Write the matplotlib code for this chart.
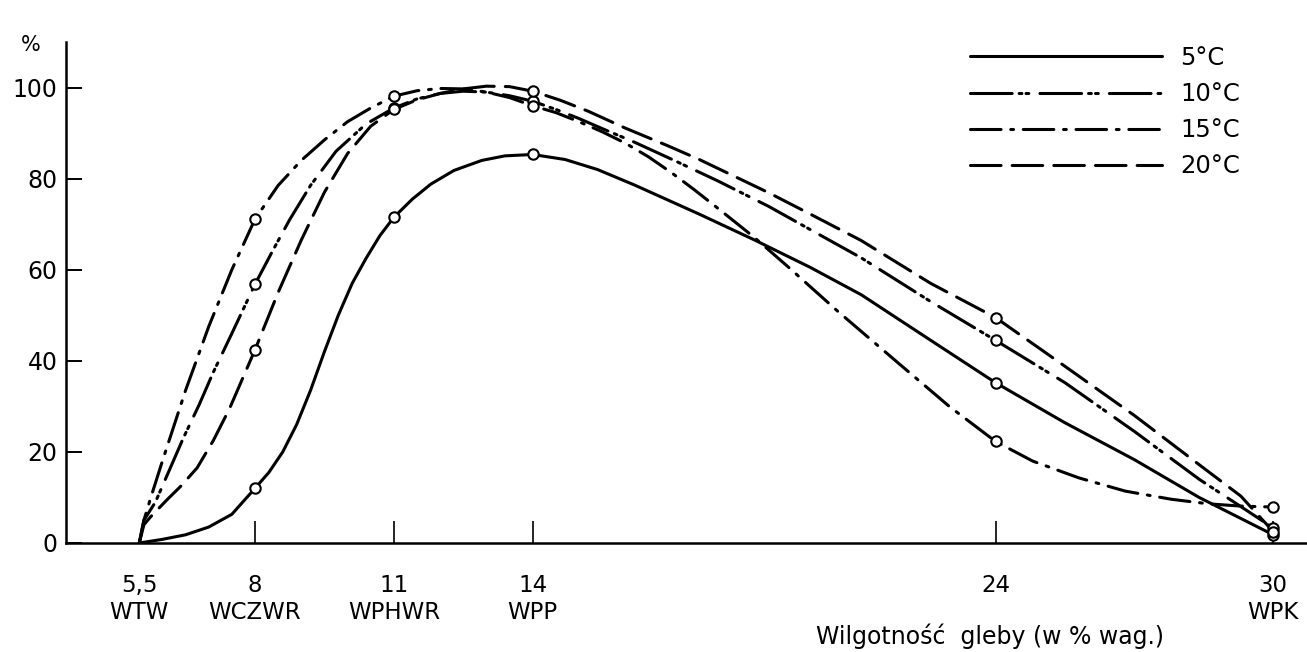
import matplotlib
matplotlib.use("Agg")
import matplotlib.pyplot as plt

plt.rcParams['font.family'] = ['DejaVu Sans']
plt.rcParams['lines.scale_dashes'] = False

# -------------------------------
# Datos
# -------------------------------
tick_pos = [5.5, 8, 11, 14, 24, 30]
tick_txt = ['5,5\nWTW', '8\nWCZWR', '11\nWPHWR', '14\nWPP', '24', '30\nWPK']

# puntos medidos (círculos)
pts_x = [8, 11, 14, 24, 30]
pts_5 = [12.0, 71.5, 85.3, 35.2, 1.8]
pts_10 = [56.8, 95.5, 97.0, 44.5, 3.3]
pts_15 = [71.1, 98.1, 96.0, 22.3, 7.9]
pts_20 = [42.4, 95.2, 99.2, 49.5, 2.5]

# trazado de las curvas
x_5 = [5.5, 6.0, 6.5, 7.0, 7.5, 8.0, 8.3, 8.6, 8.9, 9.2, 9.5, 9.8, 10.1, 10.4, 10.7,
       11.0, 11.4, 11.8, 12.3, 12.9, 13.4, 14.0, 14.7, 15.4, 16.2, 16.9, 17.6, 18.8,
       20.0, 21.1, 22.6, 24.0, 25.5, 27.0, 28.4, 30.0]
y_5 = [0, 0.8, 1.8, 3.5, 6.3, 12.0, 15.5, 20.0, 26.0, 33.5, 42.0, 50.0, 57.0, 62.5, 67.5,
       71.5, 75.5, 78.8, 81.8, 84.0, 85.0, 85.3, 84.2, 82.0, 78.6, 75.4, 72.2, 66.5,
       60.5, 54.5, 44.5, 35.2, 26.4, 18.3, 10.0, 1.8]

x_10 = [5.5, 5.6, 5.85, 6.15, 6.45, 6.8, 7.1, 7.5, 8.0, 8.4, 8.75, 9.2, 9.75, 10.4, 11.0,
        11.5, 12.0, 12.5, 13.0, 13.5, 14.0, 14.5, 15.0, 15.5, 16.2, 17.1, 18.0, 19.1,
        20.0, 21.1, 22.6, 24.0, 25.5, 27.0, 28.4, 29.3, 30.0]
y_10 = [0, 5.0, 9.0, 16.0, 23.0, 30.5, 37.5, 46.0, 56.8, 64.5, 71.0, 78.5, 86.0, 92.0, 95.5,
        97.5, 98.7, 99.2, 99.0, 98.2, 97.0, 95.2, 93.2, 91.0, 88.0, 83.8, 79.5, 73.9,
        68.8, 62.6, 53.0, 44.5, 35.2, 24.5, 14.0, 8.0, 3.3]

x_15 = [5.5, 5.6, 5.75, 6.0, 6.5, 7.0, 7.5, 8.0, 8.5, 9.0, 9.5, 10.0, 10.5, 11.0, 11.5,
        12.0, 12.5, 13.0, 13.5, 14.0, 14.5, 15.0, 15.5, 16.0, 16.5, 17.0, 17.5, 18.0,
        18.8, 19.5, 20.6, 21.9, 23.0, 24.0, 24.8, 25.8, 26.8, 27.8, 28.6, 29.3, 30.0]
y_15 = [0, 5.0, 10.0, 18.0, 33.5, 47.5, 60.0, 71.1, 78.5, 84.0, 88.5, 92.5, 95.5, 98.1, 99.3,
        99.8, 99.7, 99.0, 97.8, 96.0, 94.5, 92.5, 90.3, 87.8, 84.8, 81.3, 77.5, 73.5,
        67.0, 60.8, 50.8, 39.5, 30.0, 22.3, 18.0, 14.3, 11.4, 9.6, 8.6, 8.1, 7.9]

x_20 = [5.5, 5.6, 5.75, 6.1, 6.4, 6.75, 7.1, 7.45, 8.0, 8.5, 9.0, 9.5, 10.0, 10.5, 11.0,
        11.5, 12.0, 12.5, 13.0, 13.5, 14.0, 14.6, 15.2, 16.0, 16.9, 17.6, 19.1, 20.0,
        21.1, 22.6, 24.0, 25.5, 27.0, 28.4, 29.3, 30.0]
y_20 = [0, 4.0, 5.8, 9.5, 12.5, 16.5, 22.5, 29.5, 42.4, 55.0, 66.5, 77.0, 85.5, 91.5, 95.2,
        97.3, 98.7, 99.7, 100.3, 100.2, 99.2, 97.2, 94.8, 91.1, 87.3, 84.2, 76.9, 72.2,
        66.4, 57.0, 49.5, 38.8, 28.0, 17.2, 10.3, 2.5]

etiquetas = ['5°C', '10°C', '15°C', '20°C']

# -------------------------------
# Gráfico
# -------------------------------
W, H = 1307, 652
fig = plt.figure(figsize=(W / 100, H / 100), dpi=100)
ax = fig.add_axes([66 / W, (H - 543) / H, 1 - 66 / W, (543 - 42) / H])

lw = 2.2
estilos = [
    (x_5, y_5, pts_5, '-'),
    (x_10, y_10, pts_10, (0, (30, 5, 2, 3, 2, 8))),
    (x_15, y_15, pts_15, (0, (22, 7, 2, 7))),
    (x_20, y_20, pts_20, (0, (22, 8))),
]
for (xs, ys, ps, ls), lab in zip(estilos, etiquetas):
    ax.plot(xs, ys, color='black', lw=lw, linestyle=ls, label=lab,
            solid_capstyle='round', dash_capstyle='round', solid_joinstyle='round')
for (xs, ys, ps, ls) in estilos:
    ax.plot(pts_x, ps, 'o', ms=7.5, mfc='white', mec='black', mew=1.5, zorder=5)

ax.set_xlim(3.917, 30.73)
ax.set_ylim(0, 110)

for s in ['top', 'right']:
    ax.spines[s].set_visible(False)
for s in ['left', 'bottom']:
    ax.spines[s].set_linewidth(1.8)

ax.set_yticks([0, 20, 40, 60, 80, 100])
ax.tick_params(axis='y', direction='in', length=11.5, width=1.4, pad=6, labelsize=17)
ax.set_xticks(tick_pos)
ax.set_xticklabels(tick_txt)
ax.tick_params(axis='x', direction='in', length=16, width=1.2, pad=22, labelsize=16.5)
for lbl in ax.get_xticklabels():
    lbl.set_linespacing(1.25)
ax.xaxis.get_major_ticks()[0].tick1line.set_visible(False)

fig.text(31 / W, 1 - 45 / H, '%', fontsize=15, ha='center', va='center')
fig.text(990 / W, 1 - 636 / H, 'Wilgotność  gleby (w % wag.)', fontsize=17,
         ha='center', va='center')

leg = ax.legend(loc='upper left', bbox_to_anchor=(970 / W, 1 - 46 / H),
                bbox_transform=fig.transFigure, frameon=False, fontsize=17.5,
                handlelength=7.9, handletextpad=0.75, labelspacing=0.5,
                borderpad=0, borderaxespad=0)

fig.savefig('out.png', dpi=100, facecolor='white')
